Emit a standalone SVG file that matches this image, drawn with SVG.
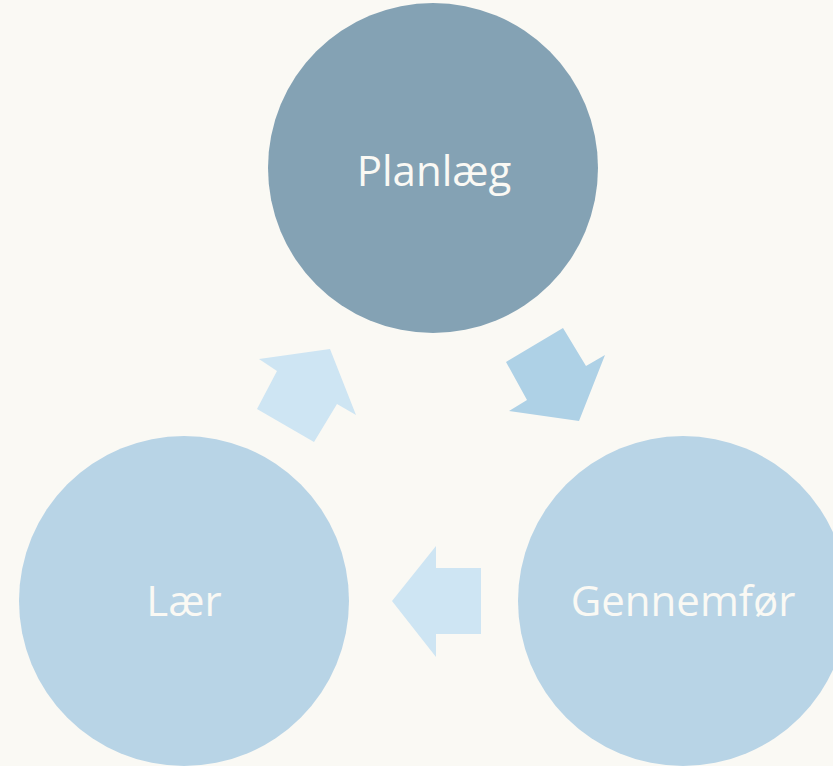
<svg xmlns="http://www.w3.org/2000/svg" width="833" height="766" viewBox="0 0 833 766">
<style>
.lbl{font-family:"Open Sans","Liberation Sans",sans-serif;font-size:42px;fill:#FAF9F4;text-anchor:middle}
.side{fill:#B8D4E6}
.arr{fill:#CEE5F3}
</style>
<rect width="833" height="766" fill="#FAF9F4"/>
<g id="planlaeg">
<circle cx="433" cy="168" r="165" fill="#84A2B4"/>
<text class="lbl" x="434" y="186">Planlæg</text>
</g>
<g id="gennemfoer">
<circle class="side" cx="683" cy="601" r="165"/>
<text class="lbl" x="683" y="616">Gennemfør</text>
</g>
<g id="laer">
<circle class="side" cx="184" cy="601" r="165"/>
<text class="lbl" x="184" y="616">Lær</text>
</g>
<g id="connectors">
<polygon fill="#AED1E6" points="506,362 563,328 586,366 605,355 579,421 509,411 527,400"/>
<polygon class="arr" points="259,359 330,349 356,415 337,404 314,442 257,409 277,371"/>
<polygon class="arr" points="392,601 436,546 436,568 481,568 481,634 436,634 436,657"/>
</g>
</svg>
